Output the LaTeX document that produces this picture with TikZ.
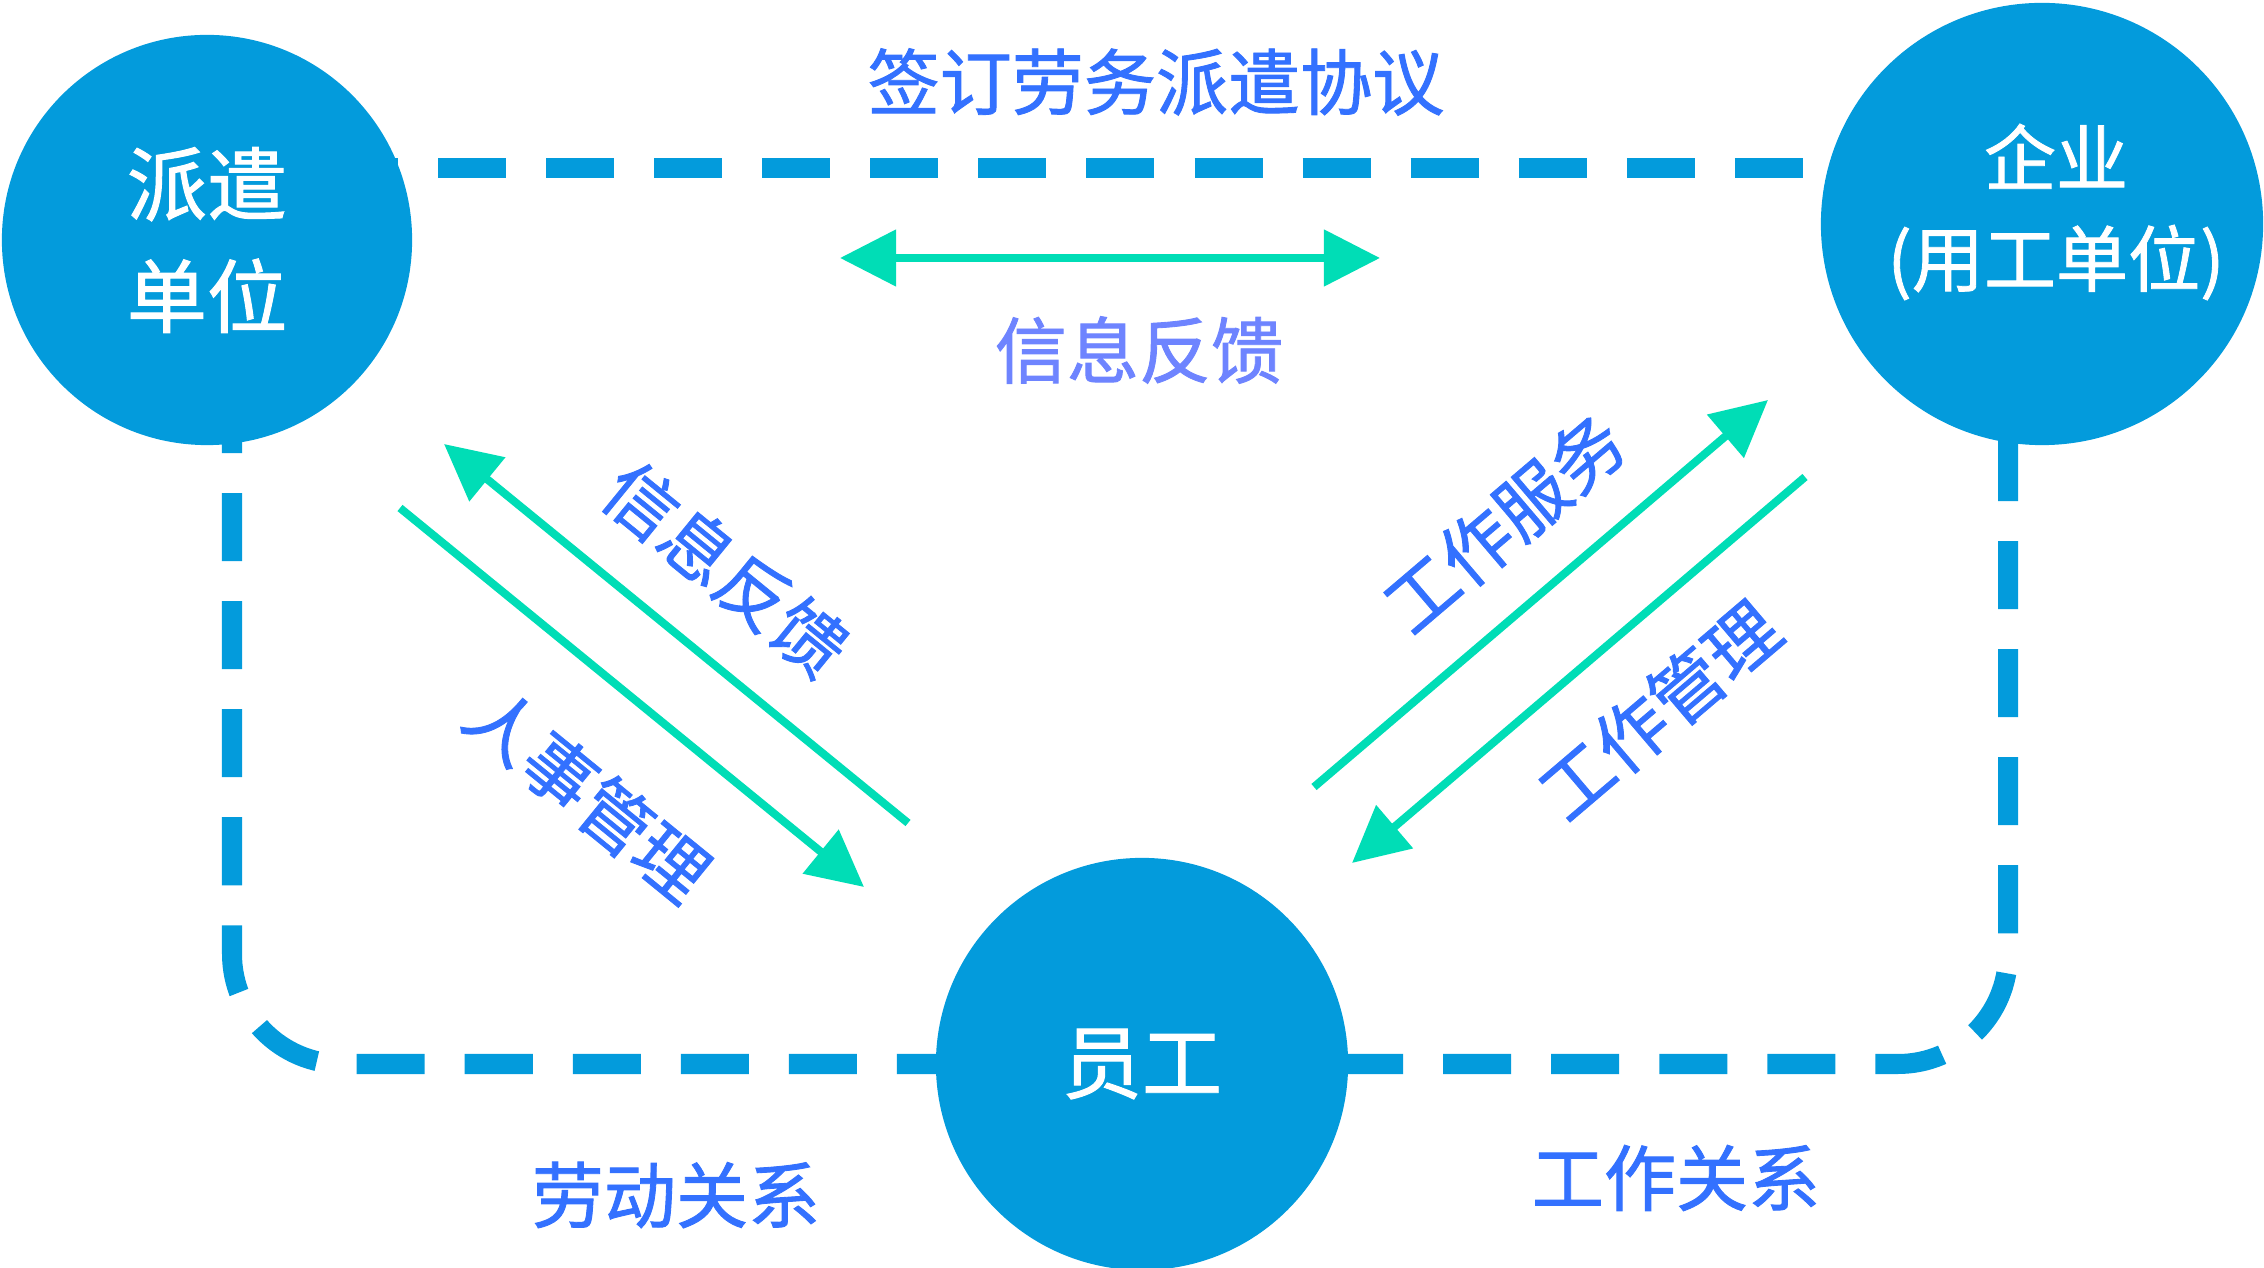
\documentclass[tikz,border=0pt]{standalone}
\usepackage{fontspec}
\setmainfont{Noto Sans CJK SC}[FakeBold=1.2]
\usetikzlibrary{arrows.meta}
\definecolor{circblue}{HTML}{039BDC}
\definecolor{arrgreen}{HTML}{00DDB6}
\definecolor{txtblue}{HTML}{3371FF}
\definecolor{txtlight}{HTML}{6E84FF}
\begin{document}
\begin{tikzpicture}[x=0.01cm,y=-0.01cm,
  frame/.style={circblue, line width=0.2cm, dash pattern=on 0.68cm off 0.4cm},
  flow/.style={arrgreen, line width=0.08cm, -{Triangle[length=0.56cm,width=0.55cm]}},
  flowboth/.style={arrgreen, line width=0.08cm, {Triangle[length=0.56cm,width=0.55cm]}-{Triangle[length=0.56cm,width=0.55cm]}},
  party/.style={circle, fill=circblue, text=white, inner sep=0pt, align=center},
  lbl/.style={text=txtblue, inner sep=0pt, font=\fontsize{20.5}{24}\selectfont},
]
\useasboundingbox (0,0) rectangle (2264,1268);

% dashed frame (behind the circles)
\coordinate (tl) at (330,168);
\coordinate (tr) at (1900,168);
\coordinate (ls) at (232,385);
\coordinate (rs) at (2008,433);
\coordinate (bm) at (1142,1064);
\draw[frame] (tl) -- (tr);
\draw[frame, rounded corners=1.1cm] (ls) |- (bm);
\draw[frame, rounded corners=1.1cm] (rs) |- (bm);

% parties
\node[party, minimum size=4.1cm, font=\fontsize{22.8}{31.9}\selectfont] (disp) at (207,240) {派遣\\单位};
\node[party, minimum size=4.42cm] (ent) at (2042,224) {};
\node[text=white, align=center, inner sep=0pt, font=\fontsize{20.5}{28.7}\selectfont] (entt) at (2056,212) {企业\\(用工单位)};
\node[party, minimum size=4.12cm, font=\fontsize{22.8}{26}\selectfont] (emp) at (1142,1064) {员工};

% green arrows
\coordinate (h1) at (840,258);
\coordinate (h2) at (1380,258);
\draw[flowboth] (h1) -- (h2);
\coordinate (a1s) at (908,823);
\coordinate (a1e) at (444,444);
\draw[flow] (a1s) -- (a1e);
\coordinate (a2s) at (400,508);
\coordinate (a2e) at (864,887);
\draw[flow] (a2s) -- (a2e);
\coordinate (a3s) at (1314,787);
\coordinate (a3e) at (1768,400);
\draw[flow] (a3s) -- (a3e);
\coordinate (a4s) at (1805,477);
\coordinate (a4e) at (1352,863);
\draw[flow] (a4s) -- (a4e);

% labels
\node[lbl] (ttop) at (1156,82) {签订劳务派遣协议};
\node[lbl, text=txtlight] (tmid) at (1139,350) {信息反馈};
\node[lbl, rotate=-39.2] (tl1) at (726,569) {信息反馈};
\node[lbl, rotate=-39.2] (tl2) at (588,794) {人事管理};
\node[lbl, rotate=40.4] (tr1) at (1504,523) {工作服务};
\node[lbl, rotate=40.4] (tr2) at (1659,710) {工作管理};
\node[lbl] (tb1) at (676,1195) {劳动关系};
\node[lbl] (tb2) at (1676,1178) {工作关系};
\end{tikzpicture}
\end{document}
